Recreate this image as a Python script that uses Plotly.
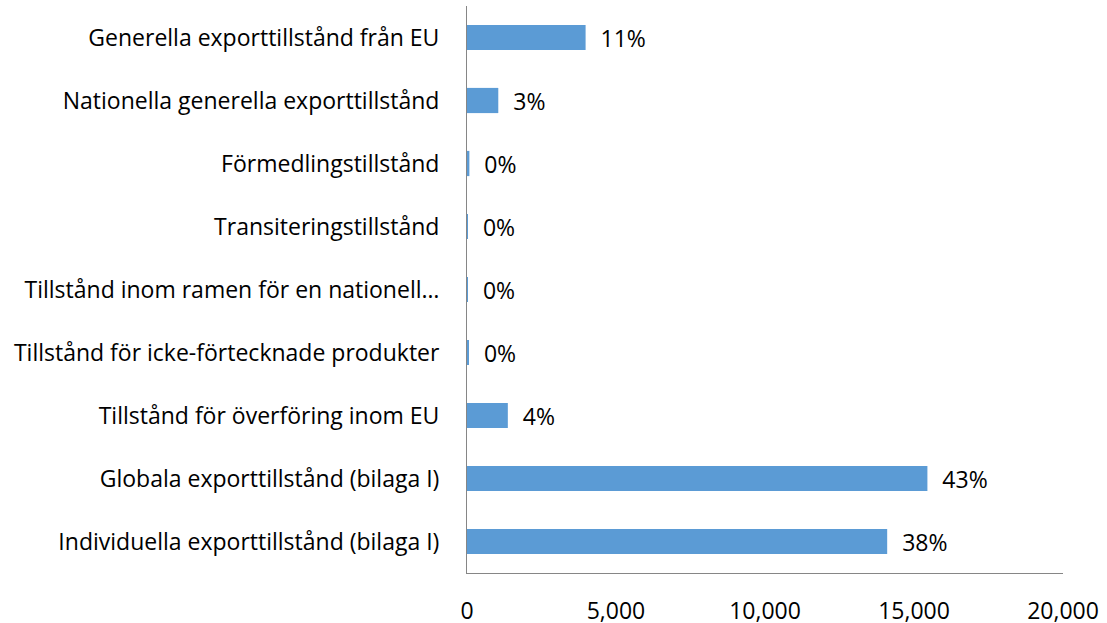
import plotly.graph_objects as go

# categories listed bottom-to-top as plotly draws them
categories = [
    "Individuella exporttillstånd (bilaga I)",
    "Globala exporttillstånd (bilaga I)",
    "Tillstånd för överföring inom EU",
    "Tillstånd för icke-förtecknade produkter",
    "Tillstånd inom ramen för en nationell…",
    "Transiteringstillstånd",
    "Förmedlingstillstånd",
    "Nationella generella exporttillstånd",
    "Generella exporttillstånd från EU",
]
counts = [14100, 15450, 1370, 50, 20, 5, 80, 1050, 3980]
share_labels = ["38%", "43%", "4%", "0%", "0%", "0%", "0%", "3%", "11%"]

x_ticks = [0, 5000, 10000, 15000, 20000]

FONT = "Open Sans"
SIZE = 23

fig = go.Figure()
fig.add_trace(go.Bar(
    x=counts,
    y=categories,
    orientation="h",
    marker=dict(color="#5B9BD5", line=dict(width=0)),
    text=["  " + s for s in share_labels],
    textposition="outside",
    constraintext="none",
    textfont=dict(family=FONT, size=SIZE, color="#000000"),
    cliponaxis=False,
    hoverinfo="x+y",
))

fig.update_layout(
    width=1107,
    height=623,
    margin=dict(l=467, r=44, t=6, b=50, autoexpand=False),
    paper_bgcolor="white",
    plot_bgcolor="white",
    bargap=0.6,
    showlegend=False,
    font=dict(family=FONT, size=SIZE, color="#000000"),
    xaxis=dict(
        range=[0, 20000],
        tickvals=x_ticks,
        tickformat=",d",
        showgrid=False,
        zeroline=False,
        showline=True,
        linecolor="#868686",
        linewidth=1,
        ticks="",
        ticklabelstandoff=17,
        automargin=False,
        tickfont=dict(family=FONT, size=SIZE),
    ),
    yaxis=dict(
        categoryorder="array",
        categoryarray=categories,
        showgrid=False,
        zeroline=False,
        showline=True,
        linecolor="#868686",
        linewidth=1,
        ticks="",
        ticklabelstandoff=22,
        automargin=False,
        tickfont=dict(family=FONT, size=SIZE),
    ),
)

fig.write_html(
    "out.html",
    config={"displayModeBar": False},
    post_script="document.body.style.margin='0';",
)
